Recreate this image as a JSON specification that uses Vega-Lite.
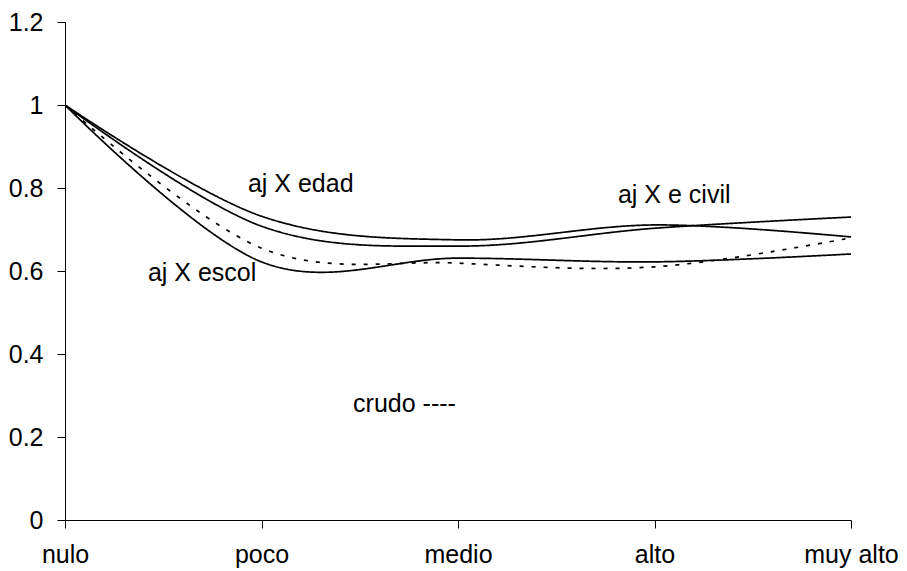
{
  "$schema": "https://vega.github.io/schema/vega-lite/v6.json",
  "width": 786,
  "height": 498,
  "padding": {"left": 8, "top": 10, "right": 0, "bottom": 5},
  "background": "white",
  "config": {
    "view": {"stroke": null},
    "font": "Liberation Sans",
    "axis": {
      "domainColor": "black",
      "tickColor": "black",
      "labelColor": "black",
      "labelFont": "Liberation Sans",
      "labelFontSize": 25,
      "tickSize": 8,
      "grid": false,
      "title": null
    }
  },
  "datasets": {
    "series": [
      {"cat": 0, "value": 1.0, "serie": "edad"},
      {"cat": 1, "value": 0.732, "serie": "edad"},
      {"cat": 2, "value": 0.675, "serie": "edad"},
      {"cat": 3, "value": 0.711, "serie": "edad"},
      {"cat": 4, "value": 0.682, "serie": "edad"},
      {"cat": 0, "value": 1.0, "serie": "ecivil"},
      {"cat": 1, "value": 0.708, "serie": "ecivil"},
      {"cat": 2, "value": 0.66, "serie": "ecivil"},
      {"cat": 3, "value": 0.703, "serie": "ecivil"},
      {"cat": 4, "value": 0.73, "serie": "ecivil"},
      {"cat": 0, "value": 1.0, "serie": "escol"},
      {"cat": 1, "value": 0.622, "serie": "escol"},
      {"cat": 2, "value": 0.631, "serie": "escol"},
      {"cat": 3, "value": 0.622, "serie": "escol"},
      {"cat": 4, "value": 0.641, "serie": "escol"},
      {"cat": 0, "value": 1.0, "serie": "crudo"},
      {"cat": 1, "value": 0.655, "serie": "crudo"},
      {"cat": 2, "value": 0.619, "serie": "crudo"},
      {"cat": 3, "value": 0.61, "serie": "crudo"},
      {"cat": 4, "value": 0.68, "serie": "crudo"}
    ],
    "labels": [
      {"x": 0.931, "y": 0.79, "text": "aj X edad"},
      {"x": 0.422, "y": 0.576, "text": "aj X escol"},
      {"x": 2.814, "y": 0.764, "text": "aj X e civil"},
      {"x": 1.466, "y": 0.26, "text": "crudo ----"}
    ]
  },
  "layer": [
    {
      "data": {"name": "series"},
      "mark": {"type": "line", "interpolate": "cardinal", "tension": 0, "color": "black"},
      "encoding": {
        "x": {
          "field": "cat", "type": "quantitative",
          "scale": {"domain": [0, 4], "nice": false, "zero": false},
          "axis": {
            "values": [0, 1, 2, 3, 4],
            "labelExpr": "['nulo','poco','medio','alto','muy alto'][datum.value]",
            "labelPadding": 14,
            "labelFlush": false,
            "labelOverlap": false
          }
        },
        "y": {
          "field": "value", "type": "quantitative",
          "scale": {"domain": [0, 1.2], "nice": false},
          "axis": {
            "values": [0, 0.2, 0.4, 0.6, 0.8, 1, 1.2],
            "format": "~g",
            "labelPadding": 14
          }
        },
        "detail": {"field": "serie"},
        "strokeDash": {
          "field": "serie", "type": "nominal",
          "scale": {"domain": ["edad", "ecivil", "escol", "crudo"], "range": [[1, 0], [1, 0], [1, 0], [4, 8]]},
          "legend": null
        },
        "strokeWidth": {
          "field": "serie", "type": "nominal",
          "scale": {"domain": ["edad", "ecivil", "escol", "crudo"], "range": [1.7, 1.7, 1.7, 2.6]},
          "legend": null
        }
      }
    },
    {
      "mark": {"type": "rule", "color": "black", "strokeWidth": 1.2},
      "encoding": {"x": {"datum": 4, "type": "quantitative"}}
    },
    {
      "data": {"name": "labels"},
      "mark": {"type": "text", "align": "left", "baseline": "alphabetic", "fontSize": 25, "font": "Liberation Sans", "color": "black"},
      "encoding": {
        "x": {"field": "x", "type": "quantitative"},
        "y": {"field": "y", "type": "quantitative"},
        "text": {"field": "text"}
      }
    }
  ]
}
